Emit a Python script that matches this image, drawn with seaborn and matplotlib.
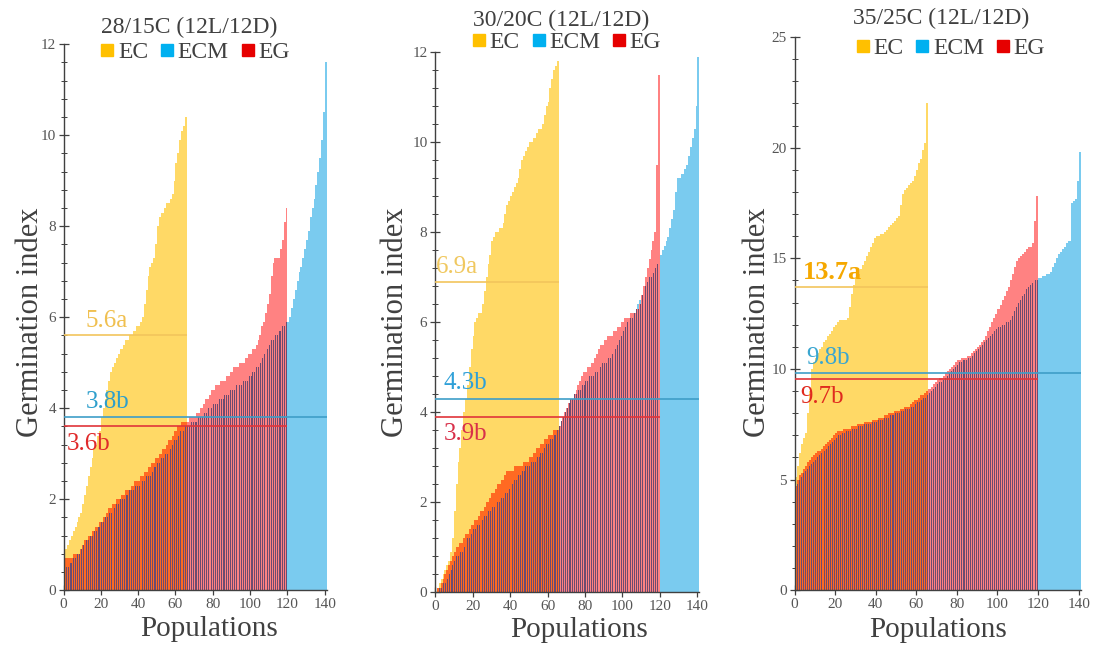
# ===== IMPORT LIBRARIES =====
import numpy as np
import matplotlib
matplotlib.use("Agg")
import matplotlib.pyplot as plt
import seaborn as sns
from matplotlib.lines import Line2D
from matplotlib.ticker import MultipleLocator

# ===== DATA (sorted germination index per population) =====
conditions = ["28/15C (12L/12D)", "30/20C (12L/12D)", "35/25C (12L/12D)"]
groups = ["EC", "ECM", "EG"]

ec_28 = [0.8, 0.9, 1.0, 1.1, 1.2, 1.3, 1.4, 1.5, 1.6, 1.7,
         1.9, 2.1, 2.3, 2.5, 2.7, 2.9, 3.1, 3.2, 3.4, 3.5,
         3.8, 4.0, 4.2, 4.4, 4.6, 4.8, 4.9, 5.0, 5.1, 5.2,
         5.3, 5.3, 5.4, 5.5, 5.5, 5.6, 5.6, 5.7, 5.7, 5.8,
         5.8, 5.9, 6.0, 6.3, 6.6, 6.9, 7.1, 7.2, 7.3, 7.6,
         8.0, 8.2, 8.3, 8.3, 8.4, 8.5, 8.5, 8.6, 8.7, 9.0,
         9.4, 9.6, 9.9, 10.1, 10.2, 10.4]
eg_28 = [0.6, 0.7, 0.7, 0.7, 0.7, 0.8, 0.8, 0.8, 0.8, 0.9,
         1.0, 1.1, 1.1, 1.2, 1.2, 1.3, 1.3, 1.4, 1.4, 1.5,
         1.5, 1.6, 1.6, 1.7, 1.8, 1.8, 1.9, 1.9, 2.0, 2.0,
         2.0, 2.1, 2.1, 2.2, 2.2, 2.2, 2.3, 2.3, 2.4, 2.4,
         2.4, 2.5, 2.5, 2.6, 2.6, 2.7, 2.7, 2.8, 2.8, 2.9,
         2.9, 3.0, 3.0, 3.1, 3.1, 3.2, 3.3, 3.3, 3.4, 3.5,
         3.5, 3.6, 3.6, 3.7, 3.7, 3.7, 3.7, 3.8, 3.8, 3.8,
         3.8, 3.9, 3.9, 4.0, 4.0, 4.1, 4.2, 4.2, 4.3, 4.4,
         4.4, 4.5, 4.5, 4.5, 4.6, 4.6, 4.6, 4.7, 4.7, 4.8,
         4.8, 4.9, 4.9, 4.9, 5.0, 5.0, 5.0, 5.1, 5.1, 5.2,
         5.2, 5.3, 5.3, 5.4, 5.5, 5.6, 5.8, 5.9, 6.1, 6.3,
         6.5, 6.9, 7.2, 7.3, 7.3, 7.3, 7.5, 7.7, 8.1, 8.4]
ecm_28 = [0.4, 0.5, 0.5, 0.6, 0.6, 0.7, 0.7, 0.8, 0.8, 0.9,
          1.0, 1.0, 1.1, 1.1, 1.2, 1.2, 1.3, 1.3, 1.4, 1.4,
          1.5, 1.5, 1.6, 1.6, 1.7, 1.7, 1.8, 1.8, 1.9, 1.9,
          2.0, 2.0, 2.0, 2.1, 2.1, 2.2, 2.2, 2.2, 2.3, 2.3,
          2.3, 2.4, 2.4, 2.4, 2.5, 2.5, 2.5, 2.6, 2.7, 2.7,
          2.8, 2.8, 2.9, 2.9, 3.0, 3.0, 3.1, 3.1, 3.2, 3.3,
          3.3, 3.4, 3.5, 3.5, 3.5, 3.6, 3.6, 3.6, 3.7, 3.7,
          3.7, 3.7, 3.8, 3.8, 3.8, 3.9, 3.9, 4.0, 4.0, 4.0,
          4.1, 4.1, 4.1, 4.2, 4.2, 4.2, 4.3, 4.3, 4.3, 4.4,
          4.4, 4.4, 4.5, 4.5, 4.5, 4.5, 4.6, 4.6, 4.6, 4.7,
          4.7, 4.8, 4.8, 4.9, 4.9, 5.0, 5.1, 5.2, 5.3, 5.3,
          5.4, 5.5, 5.5, 5.6, 5.6, 5.7, 5.7, 5.8, 5.8, 5.9,
          5.9, 6.0, 6.2, 6.4, 6.6, 6.8, 7.0, 7.1, 7.3, 7.5,
          7.7, 7.9, 8.2, 8.4, 8.6, 8.9, 9.2, 9.5, 9.9, 10.5,
          11.6]
means_28 = [5.6, 3.8, 3.6]
labels_28 = ["5.6a", "3.8b", "3.6b"]

ec_30 = [0.0, 0.1, 0.2, 0.3, 0.4, 0.5, 0.6, 0.7, 0.9, 1.2,
         1.8, 2.4, 2.9, 3.2, 3.6, 4.0, 4.3, 4.6, 5.0, 5.4,
         5.7, 6.0, 6.1, 6.2, 6.2, 6.4, 6.7, 7.0, 7.3, 7.5,
         7.8, 7.9, 8.0, 8.0, 8.1, 8.1, 8.2, 8.4, 8.6, 8.7,
         8.8, 8.9, 9.0, 9.1, 9.2, 9.4, 9.6, 9.7, 9.8, 9.9,
         10.0, 10.0, 10.1, 10.1, 10.2, 10.3, 10.3, 10.4, 10.6, 10.8,
         10.9, 11.2, 11.4, 11.6, 11.7, 11.8]
eg_30 = [0.0, 0.1, 0.1, 0.2, 0.3, 0.4, 0.5, 0.6, 0.7, 0.8,
         0.9, 1.0, 1.0, 1.1, 1.1, 1.2, 1.3, 1.3, 1.4, 1.5,
         1.5, 1.6, 1.6, 1.7, 1.8, 1.8, 1.9, 2.0, 2.0, 2.1,
         2.2, 2.2, 2.3, 2.4, 2.4, 2.5, 2.5, 2.6, 2.7, 2.7,
         2.7, 2.7, 2.8, 2.8, 2.8, 2.8, 2.8, 2.9, 2.9, 2.9,
         3.0, 3.0, 3.1, 3.1, 3.2, 3.2, 3.3, 3.3, 3.4, 3.4,
         3.5, 3.5, 3.5, 3.6, 3.6, 3.6, 3.7, 3.8, 3.9, 4.0,
         4.1, 4.2, 4.3, 4.3, 4.4, 4.5, 4.6, 4.7, 4.8, 4.9,
         4.9, 5.0, 5.0, 5.1, 5.1, 5.2, 5.3, 5.4, 5.5, 5.5,
         5.6, 5.6, 5.7, 5.7, 5.7, 5.8, 5.8, 5.9, 5.9, 6.0,
         6.0, 6.1, 6.1, 6.1, 6.2, 6.2, 6.2, 6.3, 6.3, 6.4,
         6.6, 6.8, 7.0, 7.2, 7.4, 7.6, 7.8, 8.0, 9.5, 11.5]
ecm_30 = [0.0, 0.0, 0.1, 0.1, 0.2, 0.2, 0.3, 0.4, 0.5, 0.6,
          0.7, 0.8, 0.8, 0.9, 0.9, 1.0, 1.1, 1.2, 1.2, 1.3,
          1.4, 1.4, 1.5, 1.5, 1.6, 1.6, 1.7, 1.7, 1.8, 1.8,
          1.9, 1.9, 2.0, 2.0, 2.0, 2.1, 2.1, 2.2, 2.2, 2.3,
          2.4, 2.4, 2.5, 2.5, 2.6, 2.6, 2.7, 2.7, 2.8, 2.8,
          2.8, 2.9, 2.9, 2.9, 3.0, 3.0, 3.1, 3.1, 3.2, 3.3,
          3.3, 3.4, 3.4, 3.5, 3.5, 3.6, 3.7, 3.8, 3.9, 4.0,
          4.1, 4.2, 4.3, 4.3, 4.4, 4.4, 4.5, 4.5, 4.6, 4.6,
          4.7, 4.7, 4.8, 4.8, 4.8, 4.9, 4.9, 5.0, 5.0, 5.1,
          5.1, 5.1, 5.2, 5.2, 5.3, 5.3, 5.4, 5.5, 5.6, 5.7,
          5.8, 5.9, 6.0, 6.0, 6.1, 6.1, 6.2, 6.3, 6.4, 6.5,
          6.6, 6.7, 6.8, 6.9, 7.0, 7.0, 7.1, 7.2, 7.3, 7.4,
          7.5, 7.6, 7.7, 7.8, 7.9, 8.1, 8.3, 8.5, 8.9, 9.2,
          9.2, 9.3, 9.3, 9.4, 9.5, 9.7, 9.9, 10.1, 10.3, 10.8,
          11.9]
means_30 = [6.9, 4.3, 3.9]
labels_30 = ["6.9a", "4.3b", "3.9b"]

ec_35 = [5.1, 5.6, 6.2, 6.6, 6.9, 7.1, 8.0, 9.0, 10.0, 10.3,
         10.5, 10.7, 10.9, 11.0, 11.2, 11.3, 11.5, 11.6, 11.7, 11.9,
         12.0, 12.1, 12.2, 12.2, 12.2, 12.2, 12.3, 12.8, 13.4, 13.8,
         14.1, 14.3, 14.5, 14.7, 14.9, 15.1, 15.3, 15.5, 15.7, 15.9,
         16.0, 16.0, 16.1, 16.1, 16.2, 16.3, 16.4, 16.5, 16.6, 16.7,
         16.8, 16.9, 17.4, 17.9, 18.1, 18.2, 18.3, 18.4, 18.5, 18.7,
         19.0, 19.3, 19.5, 19.9, 20.2, 22.0]
eg_35 = [4.7, 5.0, 5.2, 5.3, 5.5, 5.6, 5.8, 5.9, 6.0, 6.1,
         6.2, 6.3, 6.3, 6.4, 6.5, 6.6, 6.7, 6.8, 6.9, 7.0,
         7.1, 7.2, 7.2, 7.2, 7.3, 7.3, 7.3, 7.3, 7.4, 7.4,
         7.4, 7.5, 7.5, 7.5, 7.6, 7.6, 7.6, 7.6, 7.7, 7.7,
         7.7, 7.8, 7.8, 7.8, 7.9, 7.9, 8.0, 8.0, 8.0, 8.1,
         8.1, 8.1, 8.2, 8.2, 8.3, 8.3, 8.3, 8.4, 8.5, 8.6,
         8.6, 8.7, 8.8, 8.8, 8.9, 9.0, 9.1, 9.2, 9.3, 9.4,
         9.5, 9.6, 9.6, 9.7, 9.8, 9.9, 10.0, 10.1, 10.2, 10.3,
         10.4, 10.4, 10.5, 10.5, 10.5, 10.6, 10.6, 10.7, 10.8, 10.9,
         11.0, 11.1, 11.2, 11.3, 11.5, 11.7, 11.9, 12.1, 12.3, 12.5,
         12.7, 12.9, 13.1, 13.3, 13.5, 13.7, 14.0, 14.3, 14.6, 14.9,
         15.0, 15.1, 15.2, 15.3, 15.4, 15.5, 15.5, 15.7, 16.7, 17.8]
ecm_35 = [4.5, 4.8, 5.0, 5.1, 5.3, 5.4, 5.5, 5.6, 5.7, 5.8,
          5.9, 6.0, 6.1, 6.2, 6.3, 6.4, 6.5, 6.6, 6.7, 6.8,
          6.9, 7.0, 7.0, 7.1, 7.1, 7.2, 7.2, 7.2, 7.3, 7.3,
          7.3, 7.4, 7.4, 7.4, 7.5, 7.5, 7.5, 7.5, 7.6, 7.6,
          7.6, 7.7, 7.7, 7.7, 7.8, 7.8, 7.8, 7.9, 7.9, 8.0,
          8.0, 8.0, 8.1, 8.1, 8.2, 8.2, 8.2, 8.3, 8.3, 8.4,
          8.5, 8.5, 8.6, 8.7, 8.7, 8.8, 8.9, 9.0, 9.1, 9.2,
          9.3, 9.4, 9.4, 9.5, 9.6, 9.7, 9.8, 9.9, 10.0, 10.1,
          10.2, 10.3, 10.3, 10.4, 10.4, 10.5, 10.5, 10.6, 10.7, 10.8,
          10.9, 11.0, 11.1, 11.2, 11.3, 11.4, 11.5, 11.6, 11.7, 11.8,
          11.9, 11.9, 12.0, 12.0, 12.1, 12.1, 12.2, 12.4, 12.6, 12.8,
          13.0, 13.1, 13.3, 13.4, 13.6, 13.7, 13.8, 13.9, 14.0, 14.0,
          14.1, 14.1, 14.2, 14.2, 14.3, 14.3, 14.4, 14.6, 14.8, 15.0,
          15.2, 15.3, 15.4, 15.5, 15.7, 15.8, 17.5, 17.6, 17.7, 18.5,
          19.8]
means_35 = [13.7, 9.8, 9.55]
labels_35 = ["13.7a", "9.8b", "9.7b"]

# ===== STYLE =====
sns.set_theme(style="ticks")
plt.rcParams["font.family"] = ["Liberation Serif", "DejaVu Serif"]

TEXT = "#404040"
EC_LIGHT, ECM_LIGHT, EG_LIGHT = "#FFD966", "#7ACBEF", "#FF8282"
EC_EG, EG_ECM = "#FF6A22", "#6E4B70"
LEGEND_COLORS = ["#FFC000", "#00B0F0", "#E60000"]
LINE_COLORS = ["#F2C55C", "#3E9EC8", "#E0353A"]
LABEL_COLORS = [["#F0C050", "#2E9FCC", "#E02A2A"],
                ["#F0C860", "#2FA0D8", "#D8304A"],
                ["#F5A800", "#3AA6D0", "#E02A1E"]]

panels = [
    dict(ec=ec_28, ecm=ecm_28, eg=eg_28, means=means_28, labels=labels_28,
         rect=[0.058, 0.092, 0.240, 0.840], ymax=12, major=2, minor=0.4,
         label_x=[12, 12, 1.5], title_xy=(0.173, 0.958), leg_xy=(0.178, 0.920),
         ylab=(-0.07, 0.49), xlab=(0.555, -0.048)),
    dict(ec=ec_30, ecm=ecm_30, eg=eg_30, means=means_30, labels=labels_30,
         rect=[0.397, 0.089, 0.241, 0.831], ymax=12, major=2, minor=0.4,
         label_x=[0.5, 4.5, 4.5], title_xy=(0.512, 0.969), leg_xy=(0.517, 0.935),
         ylab=(-0.095, 0.5), xlab=(0.546, -0.046)),
    dict(ec=ec_35, ecm=ecm_35, eg=eg_35, means=means_35, labels=labels_35,
         rect=[0.725, 0.092, 0.261, 0.851], ymax=25, major=5, minor=1,
         label_x=[4, 5.5, 3], title_xy=(0.859, 0.972), leg_xy=(0.867, 0.926),
         ylab=(-0.08, 0.485), xlab=(0.5, -0.048)),
]


def bars(ax, values, color, width=1.0):
    pos = np.arange(len(values)) + 0.5
    sns.barplot(x=pos, y=values, native_scale=True, errorbar=None, color=color,
                saturation=1, width=width, linewidth=0, edgecolor="none", ax=ax)


fig = plt.figure(figsize=(10.96, 6.5), dpi=100)

for i, p in enumerate(panels):
    ax = fig.add_axes(p["rect"])
    ec, ecm, eg = np.array(p["ec"]), np.array(p["ecm"]), np.array(p["eg"])

    # single series, then the overlaps (darker blends) on top
    bars(ax, ecm, ECM_LIGHT)
    bars(ax, ec, EC_LIGHT)
    bars(ax, eg, EG_LIGHT)
    bars(ax, np.minimum(ec, eg[:len(ec)]), EC_EG)
    bars(ax, np.minimum(eg, ecm[:len(eg)]), EG_ECM, width=0.5)

    # group means
    ends = [len(ec), len(ecm), len(eg)]
    for k in range(3):
        ax.hlines(p["means"][k], 0, ends[k], color=LINE_COLORS[k], lw=1.2, zorder=5)
    ax.text(p["label_x"][0], p["means"][0] + p["ymax"] * 0.006, p["labels"][0],
            color=LABEL_COLORS[i][0], fontsize=19 if i == 2 else 18,
            fontweight="bold" if i == 2 else "normal", va="bottom", zorder=6)
    ax.text(p["label_x"][1], p["means"][1] + p["ymax"] * 0.008, p["labels"][1],
            color=LABEL_COLORS[i][1], fontsize=18, va="bottom", zorder=6)
    ax.text(p["label_x"][2], p["means"][2] - p["ymax"] * 0.012, p["labels"][2],
            color=LABEL_COLORS[i][2], fontsize=18, va="top", zorder=6)

    ax.set_xlim(0, 141)
    ax.set_ylim(0, p["ymax"])
    ax.xaxis.set_major_locator(MultipleLocator(20))
    ax.yaxis.set_major_locator(MultipleLocator(p["major"]))
    ax.yaxis.set_minor_locator(MultipleLocator(p["minor"]))
    ax.tick_params(axis="both", which="major", direction="inout", length=7, width=0.9,
                   color=TEXT, labelcolor="#555555", labelsize=11, pad=2)
    ax.tick_params(axis="y", which="minor", direction="inout", length=4, width=0.7, color=TEXT)
    sns.despine(ax=ax)
    for s in ["left", "bottom"]:
        ax.spines[s].set_color(TEXT)
        ax.spines[s].set_linewidth(1.0)

    ax.set_xlabel("Populations", fontsize=21, color=TEXT)
    ax.set_ylabel("Germination index", fontsize=22, color=TEXT)
    ax.xaxis.set_label_coords(*p["xlab"])
    ax.yaxis.set_label_coords(*p["ylab"])

    fig.text(p["title_xy"][0], p["title_xy"][1], conditions[i], ha="center", va="center",
             fontsize=17, color=TEXT)
    handles = [Line2D([], [], marker="s", linestyle="", markersize=8, color=c)
               for c in LEGEND_COLORS]
    fig.legend(handles, groups, loc="center", bbox_to_anchor=p["leg_xy"], ncol=3,
               frameon=False, fontsize=17, handlelength=0.6, handletextpad=0.15,
               columnspacing=0.5, borderpad=0, labelcolor=TEXT)

fig.savefig("out.png", dpi=100)
